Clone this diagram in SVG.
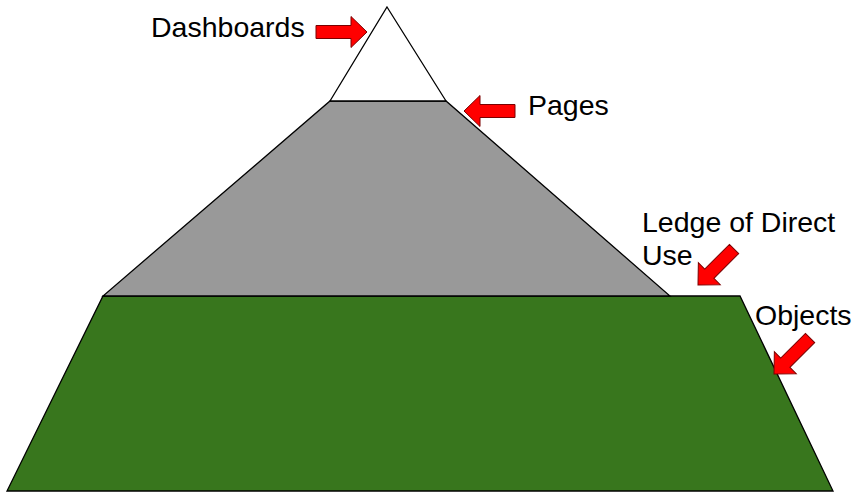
<svg xmlns="http://www.w3.org/2000/svg" width="860" height="493" viewBox="0 0 860 493">
<defs>
<style>
.lbl{font-family:"Liberation Sans",Arial,sans-serif;font-size:28.5px;fill:#000}
.arr{fill:#ff0000;stroke:#7a0000;stroke-width:1;stroke-linejoin:miter}
.tier{stroke:#000;stroke-width:1.3;stroke-linejoin:miter}
</style>
<polygon id="arrow" class="arr" points="-51,-6.5 -16,-6.5 -16,-15.5 0,0 -16,15.5 -16,6.5 -51,6.5"/>
</defs>
<rect width="860" height="493" fill="#fff"/>
<g id="objects">
<polygon class="tier" fill="#38761d" points="103,296 740,296 833,491 7,491"/>
</g>
<g id="pages">
<polygon class="tier" fill="#999999" points="330,101 446,101 670,296 103,296"/>
</g>
<g id="dashboards">
<polygon class="tier" fill="#ffffff" points="387,7 446,101 330,101"/>
</g>
<g id="connectors">
<use href="#arrow" transform="translate(367,32)"/>
<use href="#arrow" transform="translate(464,111) rotate(180)"/>
<use href="#arrow" transform="translate(698,285) rotate(135)"/>
<use href="#arrow" transform="translate(774,374) rotate(135)"/>
</g>
<g id="labels">
<text class="lbl" x="151" y="37">Dashboards</text>
<text class="lbl" x="528" y="115">Pages</text>
<text class="lbl" x="642" y="232">Ledge of Direct</text>
<text class="lbl" x="642" y="265">Use</text>
<text class="lbl" x="755" y="325">Objects</text>
</g>
</svg>
